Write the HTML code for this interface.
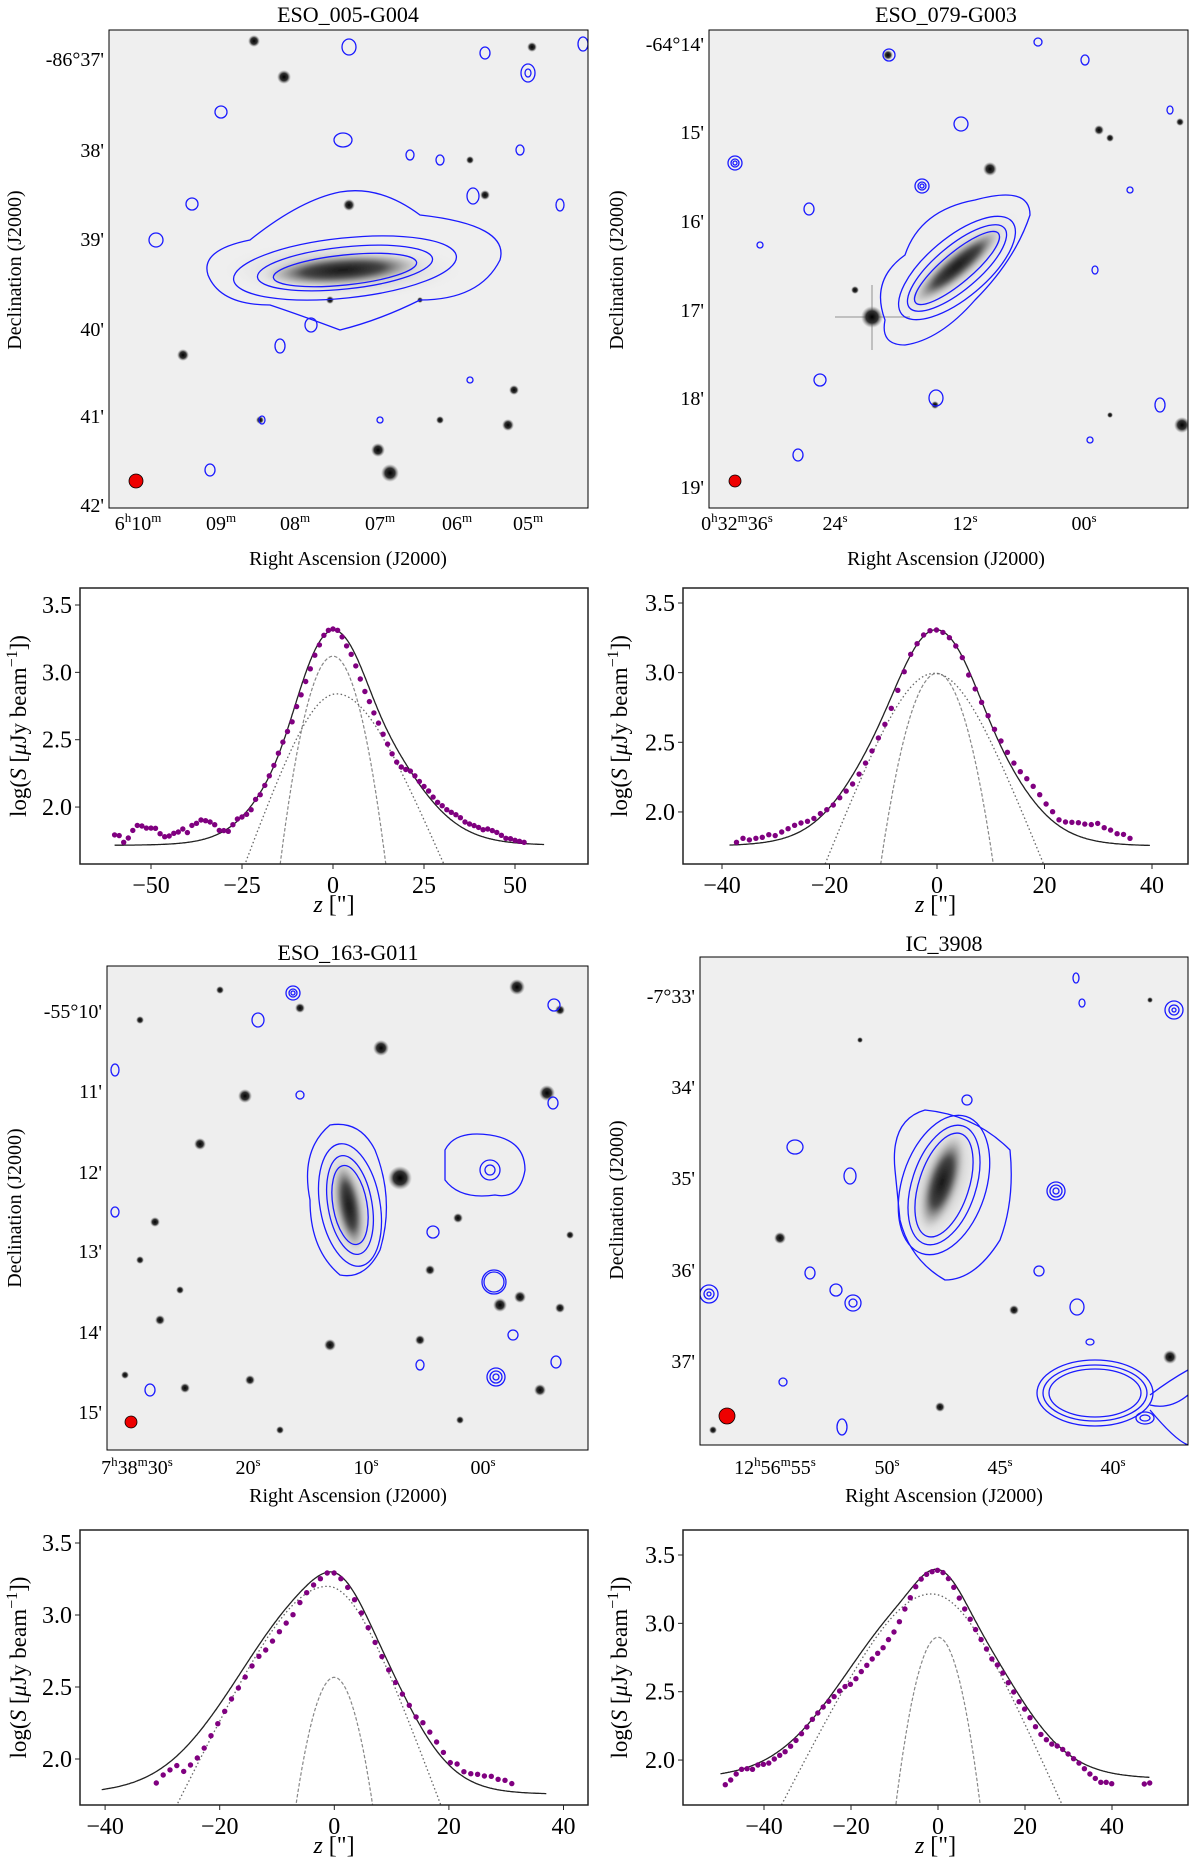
<!DOCTYPE html>
<html><head><meta charset="utf-8"><title>Galaxy profiles</title>
<style>
html,body{margin:0;padding:0;background:#fff;overflow:hidden;}
svg{display:block;font-family:"Liberation Serif","DejaVu Serif",serif;}
</style></head>
<body>
<svg id="fig" width="1200" height="1861" viewBox="0 0 1200 1861" xmlns="http://www.w3.org/2000/svg">
<defs>
  <filter id="blur2"><feGaussianBlur stdDeviation="2"/></filter>
  <filter id="blur4"><feGaussianBlur stdDeviation="4"/></filter>
  <radialGradient id="gal"><stop offset="0" stop-color="#111"/><stop offset="0.5" stop-color="#444"/><stop offset="1" stop-color="#bbb" stop-opacity="0"/></radialGradient>
  <radialGradient id="halo"><stop offset="0" stop-color="#999"/><stop offset="1" stop-color="#e6e6e6" stop-opacity="0"/></radialGradient>
  <radialGradient id="star"><stop offset="0" stop-color="#000"/><stop offset="0.55" stop-color="#333"/><stop offset="1" stop-color="#888" stop-opacity="0"/></radialGradient>
  <clipPath id="cp1"><rect x="109" y="30" width="479" height="478"/></clipPath>
  <clipPath id="cp2"><rect x="709" y="30" width="479" height="478"/></clipPath>
  <clipPath id="cp3"><rect x="107" y="966" width="481" height="484"/></clipPath>
  <clipPath id="cp4"><rect x="700" y="957" width="488" height="488"/></clipPath>
</defs>

<!-- ================= Panel 1 ================= -->
<g>
  <text x="348" y="22" text-anchor="middle" font-size="22">ESO_005-G004</text>
  <g clip-path="url(#cp1)">
    <rect x="109" y="30" width="479" height="478" fill="#efefef"/>
    <ellipse cx="343" cy="270" rx="120" ry="30" fill="url(#halo)"/>
    <ellipse cx="343" cy="270" rx="80" ry="15" fill="url(#gal)" filter="url(#blur2)" transform="rotate(-4 343 270)"/>
    <g fill="url(#star)">
      <circle cx="284" cy="77" r="7"/><circle cx="378" cy="450" r="7"/><circle cx="390" cy="473" r="9"/><circle cx="254" cy="41" r="6"/>
      <circle cx="349" cy="205" r="6"/><circle cx="485" cy="195" r="5"/><circle cx="508" cy="425" r="6"/><circle cx="514" cy="390" r="5"/>
      <circle cx="183" cy="355" r="6"/><circle cx="532" cy="47" r="5"/><circle cx="440" cy="420" r="4"/><circle cx="470" cy="160" r="4"/>
      <circle cx="260" cy="420" r="4"/><circle cx="330" cy="300" r="4"/><circle cx="420" cy="300" r="3"/>
    </g>
    <g fill="none" stroke="#1a1aff" stroke-width="1.3">
      <path d="M208 275 Q200 250 250 240 Q300 200 340 192 Q380 185 420 215 Q510 225 500 260 Q480 300 420 300 Q380 320 340 330 Q300 315 270 305 Q220 305 208 275 Z"/>
      <ellipse cx="345" cy="268" rx="112" ry="30" transform="rotate(-6 345 268)"/>
      <ellipse cx="345" cy="268" rx="88" ry="21" transform="rotate(-6 345 268)"/>
      <ellipse cx="345" cy="270" rx="72" ry="15" transform="rotate(-6 345 270)"/>
      <ellipse cx="349" cy="47" rx="7" ry="8"/><ellipse cx="528" cy="73" rx="7" ry="9"/><ellipse cx="528" cy="73" rx="3" ry="4"/>
      <ellipse cx="221" cy="112" rx="6" ry="6"/><ellipse cx="343" cy="140" rx="9" ry="7"/><ellipse cx="192" cy="204" rx="6" ry="6"/>
      <ellipse cx="156" cy="240" rx="7" ry="7"/><ellipse cx="473" cy="196" rx="6" ry="8"/><ellipse cx="311" cy="325" rx="6" ry="7"/>
      <ellipse cx="280" cy="346" rx="5" ry="7"/><ellipse cx="262" cy="420" rx="3" ry="4"/><ellipse cx="210" cy="470" rx="5" ry="6"/>
      <ellipse cx="583" cy="44" rx="5" ry="7"/><ellipse cx="485" cy="53" rx="5" ry="6"/><ellipse cx="410" cy="155" rx="4" ry="5"/>
      <ellipse cx="440" cy="160" rx="4" ry="5"/><ellipse cx="520" cy="150" rx="4" ry="5"/><ellipse cx="560" cy="205" rx="4" ry="6"/>
      <ellipse cx="470" cy="380" rx="3" ry="3"/><ellipse cx="380" cy="420" rx="3" ry="3"/>
    </g>
  </g>
  <rect x="109" y="30" width="479" height="478" fill="none" stroke="#000" stroke-width="1"/>
  <circle cx="136" cy="481" r="7" fill="#e00" stroke="#000" stroke-width="0.8"/>
  <g font-size="20" text-anchor="end">
    <text x="104" y="66">-86°37'</text><text x="104" y="157">38'</text><text x="104" y="246">39'</text>
    <text x="104" y="336">40'</text><text x="104" y="423">41'</text><text x="104" y="512">42'</text>
  </g>
  <g font-size="20" text-anchor="middle">
    <text x="138" y="530">6<tspan font-size="13" dy="-8">h</tspan><tspan dy="8">10</tspan><tspan font-size="13" dy="-8">m</tspan></text>
    <text x="221" y="530">09<tspan font-size="13" dy="-8">m</tspan></text>
    <text x="295" y="530">08<tspan font-size="13" dy="-8">m</tspan></text>
    <text x="380" y="530">07<tspan font-size="13" dy="-8">m</tspan></text>
    <text x="457" y="530">06<tspan font-size="13" dy="-8">m</tspan></text>
    <text x="528" y="530">05<tspan font-size="13" dy="-8">m</tspan></text>
  </g>
  <text x="348" y="565" text-anchor="middle" font-size="20">Right Ascension (J2000)</text>
  <text transform="translate(21 270) rotate(-90)" text-anchor="middle" font-size="20">Declination (J2000)</text>
</g>

<!-- ================= Panel 2 ================= -->
<g>
  <text x="946" y="22" text-anchor="middle" font-size="22">ESO_079-G003</text>
  <g clip-path="url(#cp2)">
    <rect x="709" y="30" width="479" height="478" fill="#efefef"/>
    <ellipse cx="957" cy="266" rx="80" ry="26" fill="url(#halo)" transform="rotate(-40 957 266)"/>
    <ellipse cx="957" cy="266" rx="58" ry="13" fill="url(#gal)" filter="url(#blur2)" transform="rotate(-40 957 266)"/>
    <g stroke="#888" stroke-width="1.5" opacity="0.6"><line x1="835" y1="317" x2="910" y2="317"/><line x1="872" y1="285" x2="872" y2="350"/></g>
    <g fill="url(#star)">
      <circle cx="872" cy="317" r="11"/><circle cx="1182" cy="425" r="8"/><circle cx="990" cy="169" r="7"/><circle cx="1099" cy="130" r="5"/>
      <circle cx="1110" cy="138" r="4"/><circle cx="888" cy="55" r="5"/><circle cx="1180" cy="122" r="4"/><circle cx="855" cy="290" r="4"/>
      <circle cx="935" cy="405" r="4"/><circle cx="1110" cy="415" r="3"/>
    </g>
    <g fill="none" stroke="#1a1aff" stroke-width="1.3">
      <path d="M885 320 Q870 280 905 255 Q920 210 975 200 Q1030 185 1030 215 Q1015 260 975 300 Q940 340 905 345 Q880 345 885 320 Z"/>
      <ellipse cx="957" cy="268" rx="72" ry="30" transform="rotate(-40 957 268)"/>
      <ellipse cx="957" cy="268" rx="62" ry="22" transform="rotate(-40 957 268)"/>
      <ellipse cx="957" cy="268" rx="54" ry="15" transform="rotate(-40 957 268)"/>
      <circle cx="735" cy="163" r="7"/><circle cx="735" cy="163" r="4"/><circle cx="735" cy="163" r="2"/>
      <circle cx="922" cy="186" r="7"/><circle cx="922" cy="186" r="4"/><circle cx="922" cy="186" r="2"/>
      <ellipse cx="961" cy="124" rx="7" ry="7"/><ellipse cx="809" cy="209" rx="5" ry="6"/><ellipse cx="820" cy="380" rx="6" ry="6"/>
      <ellipse cx="936" cy="398" rx="7" ry="8"/><ellipse cx="798" cy="455" rx="5" ry="6"/><ellipse cx="1160" cy="405" rx="5" ry="7"/>
      <ellipse cx="889" cy="55" rx="6" ry="6"/><ellipse cx="1085" cy="60" rx="4" ry="5"/><ellipse cx="1038" cy="42" rx="4" ry="4"/>
      <ellipse cx="1130" cy="190" rx="3" ry="3"/><ellipse cx="1095" cy="270" rx="3" ry="4"/><ellipse cx="1170" cy="110" rx="3" ry="4"/>
      <ellipse cx="760" cy="245" rx="3" ry="3"/><ellipse cx="1090" cy="440" rx="3" ry="3"/>
    </g>
  </g>
  <rect x="709" y="30" width="479" height="478" fill="none" stroke="#000" stroke-width="1"/>
  <circle cx="735" cy="481" r="6" fill="#e00" stroke="#000" stroke-width="0.8"/>
  <g font-size="20" text-anchor="end">
    <text x="704" y="51">-64°14'</text><text x="704" y="139">15'</text><text x="704" y="228">16'</text>
    <text x="704" y="317">17'</text><text x="704" y="405">18'</text><text x="704" y="494">19'</text>
  </g>
  <g font-size="20" text-anchor="middle">
    <text x="737" y="530">0<tspan font-size="13" dy="-8">h</tspan><tspan dy="8">32</tspan><tspan font-size="13" dy="-8">m</tspan><tspan dy="8">36</tspan><tspan font-size="13" dy="-8">s</tspan></text>
    <text x="835" y="530">24<tspan font-size="13" dy="-8">s</tspan></text>
    <text x="965" y="530">12<tspan font-size="13" dy="-8">s</tspan></text>
    <text x="1084" y="530">00<tspan font-size="13" dy="-8">s</tspan></text>
  </g>
  <text x="946" y="565" text-anchor="middle" font-size="20">Right Ascension (J2000)</text>
  <text transform="translate(623 270) rotate(-90)" text-anchor="middle" font-size="20">Declination (J2000)</text>
</g>

<!-- ================= Panel 3 ================= -->
<g>
  <text x="348" y="960" text-anchor="middle" font-size="22">ESO_163-G011</text>
  <g clip-path="url(#cp3)">
    <rect x="107" y="966" width="481" height="484" fill="#eeeeee"/>
    <ellipse cx="349" cy="1206" rx="30" ry="70" fill="url(#halo)" transform="rotate(-10 349 1206)"/>
    <ellipse cx="349" cy="1206" rx="13" ry="45" fill="url(#gal)" filter="url(#blur2)" transform="rotate(-10 349 1206)"/>
    <g fill="url(#star)">
      <circle cx="400" cy="1178" r="12"/><circle cx="381" cy="1048" r="8"/><circle cx="517" cy="987" r="8"/><circle cx="245" cy="1096" r="7"/>
      <circle cx="547" cy="1093" r="8"/><circle cx="200" cy="1144" r="6"/><circle cx="155" cy="1222" r="5"/><circle cx="500" cy="1305" r="7"/>
      <circle cx="520" cy="1297" r="6"/><circle cx="560" cy="1308" r="5"/><circle cx="330" cy="1345" r="6"/><circle cx="420" cy="1340" r="5"/>
      <circle cx="185" cy="1388" r="5"/><circle cx="250" cy="1380" r="5"/><circle cx="540" cy="1390" r="6"/><circle cx="140" cy="1260" r="4"/>
      <circle cx="458" cy="1218" r="5"/><circle cx="560" cy="1010" r="5"/><circle cx="300" cy="1008" r="5"/><circle cx="160" cy="1320" r="5"/>
      <circle cx="125" cy="1375" r="4"/><circle cx="460" cy="1420" r="4"/><circle cx="280" cy="1430" r="4"/><circle cx="570" cy="1235" r="4"/>
      <circle cx="430" cy="1270" r="5"/><circle cx="220" cy="990" r="4"/><circle cx="140" cy="1020" r="4"/><circle cx="180" cy="1290" r="4"/>
    </g>
    <g fill="none" stroke="#1a1aff" stroke-width="1.3">
      <path d="M310 1200 Q300 1150 330 1125 Q360 1120 375 1150 Q395 1200 380 1250 Q365 1280 340 1275 Q310 1250 310 1200 Z"/>
      <ellipse cx="350" cy="1205" rx="30" ry="62" transform="rotate(-10 350 1205)"/>
      <ellipse cx="350" cy="1205" rx="22" ry="50" transform="rotate(-10 350 1205)"/>
      <ellipse cx="350" cy="1205" rx="17" ry="40" transform="rotate(-10 350 1205)"/>
      <path d="M445 1150 Q455 1130 490 1135 Q525 1140 525 1170 Q520 1200 495 1195 Q460 1200 445 1180 Z"/>
      <circle cx="490" cy="1170" r="10"/><circle cx="490" cy="1170" r="5"/>
      <circle cx="494" cy="1282" r="12"/><circle cx="494" cy="1282" r="10"/>
      <circle cx="496" cy="1377" r="9"/><circle cx="496" cy="1377" r="6"/><circle cx="496" cy="1377" r="3"/>
      <circle cx="293" cy="993" r="7"/><circle cx="293" cy="993" r="4"/><circle cx="293" cy="993" r="2"/>
      <ellipse cx="433" cy="1232" rx="6" ry="6"/><ellipse cx="258" cy="1020" rx="6" ry="7"/><ellipse cx="554" cy="1005" rx="6" ry="6"/>
      <ellipse cx="553" cy="1103" rx="5" ry="6"/><ellipse cx="150" cy="1390" rx="5" ry="6"/><ellipse cx="556" cy="1362" rx="5" ry="6"/>
      <ellipse cx="513" cy="1335" rx="5" ry="5"/><ellipse cx="420" cy="1365" rx="4" ry="5"/><ellipse cx="300" cy="1095" rx="4" ry="4"/>
      <ellipse cx="115" cy="1070" rx="4" ry="6"/><ellipse cx="115" cy="1212" rx="4" ry="5"/>
    </g>
  </g>
  <rect x="107" y="966" width="481" height="484" fill="none" stroke="#000" stroke-width="1"/>
  <circle cx="131" cy="1422" r="6" fill="#e00" stroke="#000" stroke-width="0.8"/>
  <g font-size="20" text-anchor="end">
    <text x="102" y="1018">-55°10'</text><text x="102" y="1098">11'</text><text x="102" y="1179">12'</text>
    <text x="102" y="1258">13'</text><text x="102" y="1339">14'</text><text x="102" y="1419">15'</text>
  </g>
  <g font-size="20" text-anchor="middle">
    <text x="137" y="1474">7<tspan font-size="13" dy="-8">h</tspan><tspan dy="8">38</tspan><tspan font-size="13" dy="-8">m</tspan><tspan dy="8">30</tspan><tspan font-size="13" dy="-8">s</tspan></text>
    <text x="248" y="1474">20<tspan font-size="13" dy="-8">s</tspan></text>
    <text x="366" y="1474">10<tspan font-size="13" dy="-8">s</tspan></text>
    <text x="483" y="1474">00<tspan font-size="13" dy="-8">s</tspan></text>
  </g>
  <text x="348" y="1502" text-anchor="middle" font-size="20">Right Ascension (J2000)</text>
  <text transform="translate(21 1208) rotate(-90)" text-anchor="middle" font-size="20">Declination (J2000)</text>
</g>

<!-- ================= Panel 4 ================= -->
<g>
  <text x="944" y="951" text-anchor="middle" font-size="22">IC_3908</text>
  <g clip-path="url(#cp4)">
    <rect x="700" y="957" width="488" height="488" fill="#efefef"/>
    <ellipse cx="942" cy="1182" rx="35" ry="75" fill="url(#halo)" transform="rotate(18 942 1182)"/>
    <ellipse cx="942" cy="1182" rx="17" ry="50" fill="url(#gal)" filter="url(#blur2)" transform="rotate(18 942 1182)"/>
    <g fill="url(#star)">
      <circle cx="780" cy="1238" r="6"/><circle cx="1014" cy="1310" r="5"/><circle cx="1170" cy="1357" r="7"/><circle cx="940" cy="1407" r="5"/>
      <circle cx="713" cy="1430" r="4"/><circle cx="860" cy="1040" r="3"/><circle cx="1150" cy="1000" r="3"/>
    </g>
    <g fill="none" stroke="#1a1aff" stroke-width="1.3">
      <path d="M895 1170 Q890 1120 925 1110 Q975 1115 1010 1150 Q1015 1200 1000 1240 Q975 1280 945 1280 Q910 1260 900 1220 Z"/>
      <ellipse cx="944" cy="1185" rx="42" ry="72" transform="rotate(18 944 1185)"/>
      <ellipse cx="944" cy="1185" rx="32" ry="62" transform="rotate(18 944 1185)"/>
      <ellipse cx="944" cy="1185" rx="25" ry="54" transform="rotate(18 944 1185)"/>
      <ellipse cx="1095" cy="1393" rx="58" ry="33"/><ellipse cx="1095" cy="1393" rx="52" ry="28"/><ellipse cx="1095" cy="1393" rx="46" ry="24"/>
      <path d="M1150 1395 Q1170 1380 1188 1370 M1150 1405 Q1170 1410 1188 1395 M1150 1410 Q1175 1440 1188 1445"/>
      <ellipse cx="1145" cy="1418" rx="9" ry="6"/><ellipse cx="1145" cy="1418" rx="5" ry="3"/>
      <circle cx="1174" cy="1010" r="9"/><circle cx="1174" cy="1010" r="5"/><circle cx="1174" cy="1010" r="2"/>
      <circle cx="709" cy="1294" r="9"/><circle cx="709" cy="1294" r="5"/><circle cx="709" cy="1294" r="2"/>
      <circle cx="853" cy="1303" r="8"/><circle cx="853" cy="1303" r="4"/><circle cx="836" cy="1290" r="6"/>
      <circle cx="1056" cy="1191" r="9"/><circle cx="1056" cy="1191" r="6"/><circle cx="1056" cy="1191" r="3"/>
      <ellipse cx="795" cy="1147" rx="8" ry="7"/><ellipse cx="850" cy="1176" rx="6" ry="8"/><ellipse cx="1077" cy="1307" rx="7" ry="8"/>
      <ellipse cx="1039" cy="1271" rx="5" ry="5"/><ellipse cx="810" cy="1273" rx="5" ry="6"/><ellipse cx="1076" cy="978" rx="3" ry="5"/>
      <ellipse cx="1082" cy="1003" rx="3" ry="4"/><ellipse cx="842" cy="1427" rx="5" ry="8"/><ellipse cx="967" cy="1100" rx="5" ry="5"/>
      <ellipse cx="783" cy="1382" rx="4" ry="4"/><ellipse cx="1090" cy="1342" rx="4" ry="3"/>
    </g>
  </g>
  <rect x="700" y="957" width="488" height="488" fill="none" stroke="#000" stroke-width="1"/>
  <circle cx="727" cy="1416" r="8" fill="#e00" stroke="#000" stroke-width="0.8"/>
  <g font-size="20" text-anchor="end">
    <text x="695" y="1003">-7°33'</text><text x="695" y="1094">34'</text><text x="695" y="1185">35'</text>
    <text x="695" y="1277">36'</text><text x="695" y="1368">37'</text>
  </g>
  <g font-size="20" text-anchor="middle">
    <text x="775" y="1474">12<tspan font-size="13" dy="-8">h</tspan><tspan dy="8">56</tspan><tspan font-size="13" dy="-8">m</tspan><tspan dy="8">55</tspan><tspan font-size="13" dy="-8">s</tspan></text>
    <text x="887" y="1474">50<tspan font-size="13" dy="-8">s</tspan></text>
    <text x="1000" y="1474">45<tspan font-size="13" dy="-8">s</tspan></text>
    <text x="1113" y="1474">40<tspan font-size="13" dy="-8">s</tspan></text>
  </g>
  <text x="944" y="1502" text-anchor="middle" font-size="20">Right Ascension (J2000)</text>
  <text transform="translate(623 1200) rotate(-90)" text-anchor="middle" font-size="20">Declination (J2000)</text>
</g>

<g id="charts"></g>
</svg>

<script>
// ---------- chart data ----------
const yTickLabels = [2.0, 2.5, 3.0, 3.5];

// Chart 1: ESO_005-G004
const xTicks1 = [-50, -25, 0, 25, 50];
const zStart1 = -60.0;
const zStep1 = 1.25;
const profile1 = [1.793,1.788,1.738,1.770,1.827,1.864,1.859,1.844,1.844,1.842,1.802,1.780,1.785,1.805,1.815,1.837,1.810,1.864,1.879,1.904,1.899,1.889,1.869,1.827,1.825,1.820,1.869,1.911,1.926,1.946,1.980,2.057,2.092,2.161,2.232,2.309,2.400,2.482,2.561,2.633,2.746,2.833,2.932,3.026,3.127,3.204,3.275,3.312,3.322,3.312,3.263,3.196,3.134,3.048,2.951,2.858,2.783,2.699,2.623,2.541,2.467,2.395,2.334,2.297,2.279,2.267,2.232,2.190,2.153,2.119,2.074,2.035,2.010,1.980,1.961,1.943,1.921,1.889,1.874,1.862,1.849,1.832,1.837,1.825,1.812,1.790,1.768,1.765,1.753,1.746,1.738];
const dash1 = [3.12, 0.0, 5.44];          // peak, centre, sigma (Gaussian)
const dot1 = [2.84, 1.0, 11.8, 13.8];     // peak, centre, hLeft, hRight (sech^2)
const base1 = 52;
const fitRange1 = [-60, 58];

// Chart 2: ESO_079-G003
const xTicks2 = [-40, -20, 0, 20, 40];
const zStart2 = -37.3;
const zStep2 = 1.2;
const profile2 = [1.782,1.811,1.799,1.811,1.818,1.837,1.830,1.856,1.880,1.904,1.921,1.933,1.954,1.988,2.016,2.050,2.102,2.150,2.201,2.272,2.351,2.438,2.531,2.629,2.744,2.873,3.007,3.132,3.208,3.270,3.301,3.306,3.289,3.251,3.191,3.108,2.983,2.883,2.787,2.691,2.593,2.509,2.428,2.351,2.289,2.239,2.184,2.124,2.057,2.002,1.944,1.928,1.926,1.923,1.913,1.909,1.918,1.887,1.870,1.844,1.839,1.811];
const dash2 = [2.995, 0.0, 4.17];
const dot2 = [2.995, -0.5, 9.0, 9.0];
const base2 = 57;
const fitRange2 = [-38.6, 39.6];

// Chart 3: ESO_163-G011
const xTicks3 = [-40, -20, 0, 20, 40];
const zStart3 = -31.06;
const zStep3 = 1.193;
const profile3 = [1.833,1.889,1.924,1.954,1.914,1.958,2.007,2.076,2.162,2.245,2.331,2.417,2.493,2.569,2.646,2.713,2.757,2.819,2.884,2.944,3.002,3.086,3.155,3.208,3.252,3.292,3.292,3.252,3.192,3.106,3.014,2.912,2.810,2.711,2.618,2.532,2.451,2.373,2.292,2.252,2.187,2.118,2.046,1.975,1.965,1.912,1.898,1.894,1.882,1.880,1.859,1.852,1.829];
const dash3 = [2.567, 0.0, 3.31];
const dot3 = [3.199, -1.2, 10.8, 8.13];
const base3 = 57;
const fitRange3 = [-40.6, 37];

// Chart 4: IC_3908
const xTicks4 = [-40, -20, 0, 20, 40];
const zStart4 = -48.9;
const zStep4 = 1.251;
const profile4 = [1.820,1.854,1.898,1.932,1.937,1.932,1.964,1.969,1.978,2.008,2.035,2.061,2.101,2.144,2.193,2.242,2.298,2.344,2.388,2.430,2.464,2.505,2.537,2.554,2.595,2.647,2.693,2.739,2.781,2.822,2.881,2.937,3.012,3.105,3.188,3.268,3.324,3.359,3.378,3.388,3.371,3.327,3.264,3.185,3.105,3.030,2.954,2.881,2.812,2.739,2.695,2.637,2.566,2.498,2.427,2.373,2.310,2.244,2.188,2.149,2.117,2.103,2.078,2.044,2.010,1.978,1.937,1.898,1.866,1.837,1.837,1.827,null,null,null,null,null,1.825,1.832];
const dash4 = [2.898, 0.0, 4.08];
const dot4 = [3.215, -1.5, 14.0, 12.2];
const base4 = 73;
const fitRange4 = [-50, 48.7];

// ---------- layout (pixels, not data) ----------
const layouts = [
  {name:'profile-chart-eso-005-g004', x0:80, x1:588, y0:588, y1:864, zeroX:333, pxPerUnit:3.64, y35:605, pxPerDex:134.7, ylabX:26},
  {name:'profile-chart-eso-079-g003', x0:683, x1:1188, y0:588, y1:864, zeroX:937, pxPerUnit:5.375, y35:603, pxPerDex:139.3, ylabX:627},
  {name:'profile-chart-eso-163-g011', x0:80, x1:588, y0:1530, y1:1805, zeroX:334.3, pxPerUnit:5.73, y35:1543, pxPerDex:144, ylabX:26},
  {name:'profile-chart-ic-3908', x0:683, x1:1188, y0:1530, y1:1805, zeroX:938, pxPerUnit:4.35, y35:1555, pxPerDex:136.7, ylabX:627}
];
const chartData = [
  {xt:xTicks1, zs:zStart1, dz:zStep1, p:profile1, dash:dash1, dot:dot1, base:base1, fr:fitRange1},
  {xt:xTicks2, zs:zStart2, dz:zStep2, p:profile2, dash:dash2, dot:dot2, base:base2, fr:fitRange2},
  {xt:xTicks3, zs:zStart3, dz:zStep3, p:profile3, dash:dash3, dot:dot3, base:base3, fr:fitRange3},
  {xt:xTicks4, zs:zStart4, dz:zStep4, p:profile4, dash:dash4, dot:dot4, base:base4, fr:fitRange4}
];

const NS = 'http://www.w3.org/2000/svg';
function mk(tag, attrs, parent){
  const e = document.createElementNS(NS, tag);
  for (const k in attrs) e.setAttribute(k, attrs[k]);
  if (parent) parent.appendChild(e);
  return e;
}
function gaussLog(z, d){ return d[0] - Math.pow(z - d[1], 2) / (2 * d[2] * d[2] * Math.LN10); }
function sechLog(z, d){
  const h = z < d[1] ? d[2] : d[3];
  const u = (z - d[1]) / h;
  return d[0] - 2 * Math.log10(Math.cosh(u));
}
function fmtTick(v){ return (v < 0 ? '\u2212' : '') + Math.abs(v); }

const root = document.getElementById('charts');
layouts.forEach(function(L, i){
  const D = chartData[i];
  const xs = z => L.zeroX + z * L.pxPerUnit;
  const ys = v => L.y35 + (3.5 - v) * L.pxPerDex;
  const g = mk('g', {}, root);
  
  
  const cid = 'pc' + i;
  const cp = mk('clipPath', {id: cid}, g);
  mk('rect', {x:L.x0, y:L.y0, width:L.x1 - L.x0, height:L.y1 - L.y0}, cp);
  const plot = mk('g', {'clip-path': 'url(#' + cid + ')'}, g);

  const zMin = (L.x0 - L.zeroX) / L.pxPerUnit, zMax = (L.x1 - L.zeroX) / L.pxPerUnit;
  let dd = '', dt = '';
  for (let z = zMin; z <= zMax; z += 0.2) {
    const a = gaussLog(z, D.dash), b = sechLog(z, D.dot);
    dd += (dd ? 'L' : 'M') + xs(z).toFixed(1) + ' ' + ys(Math.max(a, 0.5)).toFixed(1);
    dt += (dt ? 'L' : 'M') + xs(z).toFixed(1) + ' ' + ys(Math.max(b, 0.5)).toFixed(1);
  }
  const dashLine = mk('path', {d: dd, fill:'none', stroke:'#888', 'stroke-width':1.2, 'stroke-dasharray':'3.5 2'}, plot);
  
  
  const dotLine = mk('path', {d: dt, fill:'none', stroke:'#666', 'stroke-width':1.3, 'stroke-dasharray':'1.5 2.5'}, plot);
  
  

  let df = '';
  for (let z = D.fr[0]; z <= D.fr[1] + 1e-6; z += 0.2) {
    const tot = Math.log10(Math.pow(10, gaussLog(z, D.dash)) + Math.pow(10, sechLog(z, D.dot)) + D.base);
    df += (df ? 'L' : 'M') + xs(z).toFixed(1) + ' ' + ys(tot).toFixed(1);
  }
  const fit = mk('path', {d: df, fill:'none', stroke:'#222', 'stroke-width':1.3}, plot);
  
  

  const pts = mk('g', {fill:'#800080'}, plot);
  
  
  D.p.forEach(function(v, k){
    if (v === null) return;
    const c = mk('circle', {cx: xs(D.zs + k * D.dz).toFixed(1), cy: ys(v).toFixed(1), r: 2.7}, pts);
    
    
  });

  const frame = mk('rect', {x:L.x0, y:L.y0, width:L.x1 - L.x0, height:L.y1 - L.y0, fill:'none', stroke:'#222', 'stroke-width':1.5}, g);
  
  

  const xa = mk('g', {}, g);
  
  
  D.xt.forEach(function(t){
    const x = xs(t);
    mk('line', {x1:x, x2:x, y1:L.y1, y2:L.y1 + 5, stroke:'#222', 'stroke-width':1}, xa);
    const tl = mk('text', {x:x, y:L.y1 + 29, 'text-anchor':'middle', 'font-size':24}, xa);
    tl.textContent = fmtTick(t);
    
    
  });
  const ya = mk('g', {}, g);
  
  
  yTickLabels.forEach(function(t){
    const y = ys(t);
    mk('line', {x1:L.x0 - 5, x2:L.x0, y1:y, y2:y, stroke:'#222', 'stroke-width':1}, ya);
    const tl = mk('text', {x:L.x0 - 8, y:y + 8, 'text-anchor':'end', 'font-size':24}, ya);
    tl.textContent = t.toFixed(1);
    
    
  });
  const xt = mk('text', {x:(L.x0 + L.x1) / 2, y:L.y1 + 48, 'text-anchor':'middle', 'font-size':24}, g);
  xt.innerHTML = '<tspan font-style="italic">z</tspan> ["]';
  
  
  const yt = mk('text', {transform:'translate(' + L.ylabX + ' ' + ((L.y0 + L.y1) / 2) + ') rotate(-90)', 'text-anchor':'middle', 'font-size':23}, g);
  yt.innerHTML = 'log(<tspan font-style="italic">S</tspan> [<tspan font-style="italic">\u03bc</tspan>Jy beam<tspan font-size="16" dy="-9">\u22121</tspan><tspan dy="9">])</tspan>';
  
  
});
</script>
</body></html>
